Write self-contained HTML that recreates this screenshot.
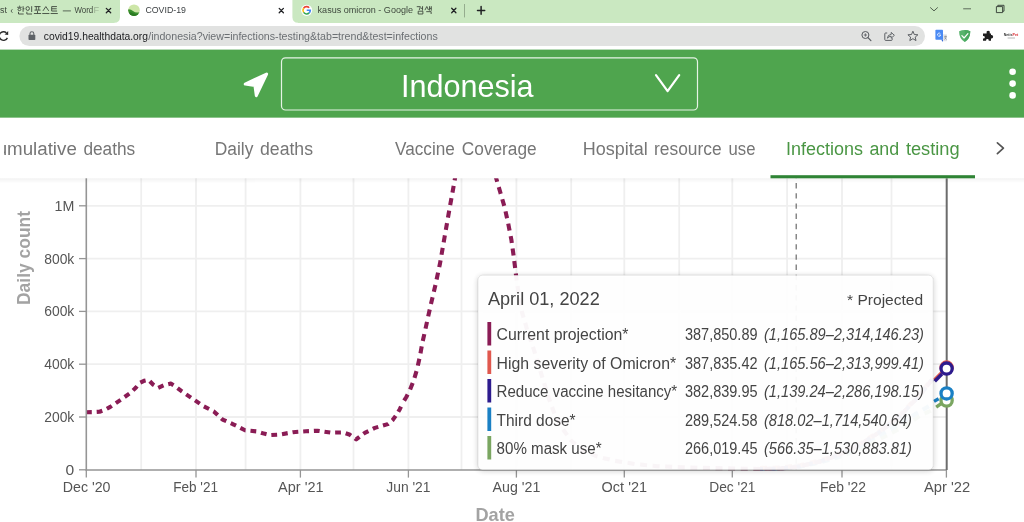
<!DOCTYPE html>
<html lang="en">
<head>
<meta charset="utf-8">
<title>COVID-19</title>
<style>
html,body{margin:0;padding:0;background:#fff;overflow:hidden;}
body{width:1024px;height:522px;position:relative;font-family:"Liberation Sans",sans-serif;}
svg{will-change:transform;opacity:0.999;position:absolute;left:0;top:0;display:block;}
text{font-family:"Liberation Sans",sans-serif;}
</style>
</head>
<body>
<svg width="1024" height="522" viewBox="0 0 1024 522">
<defs>
  <linearGradient id="tabShadow" x1="0" y1="0" x2="0" y2="1">
    <stop offset="0" stop-color="#000" stop-opacity="0.05"/>
    <stop offset="1" stop-color="#000" stop-opacity="0"/>
  </linearGradient>
  <filter id="ttShadow" x="-10%" y="-10%" width="120%" height="130%">
    <feGaussianBlur in="SourceAlpha" stdDeviation="3"/>
    <feOffset dx="0" dy="1"/>
    <feComponentTransfer><feFuncA type="linear" slope="0.22"/></feComponentTransfer>
    <feMerge><feMergeNode/><feMergeNode in="SourceGraphic"/></feMerge>
  </filter>
  <clipPath id="plotClip"><rect x="86" y="177" width="861" height="294"/></clipPath>
</defs>

<!-- ===== CHART (drawn first, tab bar overlays its top) ===== -->
<g id="chart">
<g stroke="#efefef" stroke-width="1.8" fill="none">
<line x1="141.2" y1="178" x2="141.2" y2="470"/>
<line x1="196.0" y1="178" x2="196.0" y2="470"/>
<line x1="245.6" y1="178" x2="245.6" y2="470"/>
<line x1="300.4" y1="178" x2="300.4" y2="470"/>
<line x1="353.5" y1="178" x2="353.5" y2="470"/>
<line x1="408.4" y1="178" x2="408.4" y2="470"/>
<line x1="461.5" y1="178" x2="461.5" y2="470"/>
<line x1="516.4" y1="178" x2="516.4" y2="470"/>
<line x1="571.2" y1="178" x2="571.2" y2="470"/>
<line x1="624.3" y1="178" x2="624.3" y2="470"/>
<line x1="679.2" y1="178" x2="679.2" y2="470"/>
<line x1="732.3" y1="178" x2="732.3" y2="470"/>
<line x1="787.1" y1="178" x2="787.1" y2="470"/>
<line x1="842.0" y1="178" x2="842.0" y2="470"/>
<line x1="891.5" y1="178" x2="891.5" y2="470"/>
<line x1="86" y1="417.0" x2="946" y2="417.0"/>
<line x1="86" y1="364.2" x2="946" y2="364.2"/>
<line x1="86" y1="311.4" x2="946" y2="311.4"/>
<line x1="86" y1="258.6" x2="946" y2="258.6"/>
<line x1="86" y1="205.8" x2="946" y2="205.8"/>
</g>
<line x1="796.2" y1="178" x2="796.2" y2="470" stroke="#6a6a6a" stroke-width="1.2" stroke-dasharray="5.4 4.8" stroke-dashoffset="-5"/>
<g clip-path="url(#plotClip)" fill="none" stroke-width="4.1" stroke-linejoin="round">
<polyline points="760.0,469.0 780.0,468.6 800.0,466.4 820.0,462.4 840.0,456.8 860.0,448.8 876.0,441.0 892.7,432.4 908.8,423.3 920.8,415.3 929.9,411.2 932.0,410.0" stroke="#7aa661" stroke-dasharray="7 5.6"/>
<polyline points="760.0,469.0 780.0,468.6 800.0,466.4 820.0,462.2 840.0,456.2 856.0,448.5 870.5,439.8 884.6,432.4 900.7,423.3 916.8,413.3 928.9,406.2 932.0,403.0" stroke="#1a80c4" stroke-dasharray="7 5.6"/>
<polyline points="760.0,468.0 780.0,467.6 800.0,465.2 820.0,460.5 840.0,453.5 860.5,443.4 880.6,430.4 900.7,414.3 920.8,393.1 932.0,378.5" stroke="#e0584e" stroke-dasharray="7 5.6"/>
<polyline points="760.0,469.0 780.0,468.6 800.0,466.2 820.0,461.5 840.0,454.5 860.5,444.4 880.6,431.4 900.7,415.3 920.8,394.1 932.0,379.5" stroke="#2d1b8e" stroke-dasharray="7 5.6" stroke-dashoffset="4"/>
<polyline points="760.0,469.0 780.0,468.6 800.0,466.2 820.0,461.5 840.0,454.5 860.5,444.4 880.6,431.4 900.7,415.3 920.8,394.1 932.0,379.5" stroke="#8a1c55" stroke-dasharray="7 5.6" stroke-dashoffset="8"/>
<polyline points="86.0,412.2 93.0,412.1 99.5,411.7 105.0,409.8 110.3,406.9 121.0,399.6 131.2,392.2 136.0,387.5 139.6,383.0 144.0,380.8 148.4,379.8 153.0,384.5 158.1,387.8 164.0,385.2 170.8,383.6 176.0,386.8 181.6,391.2 192.3,398.5 203.0,405.9 213.8,411.4 222.6,419.6 234.3,424.8 245.0,430.3 256.8,431.4 264.0,433.6 270.0,435.1 280.0,434.5 293.0,432.2 305.9,431.3 317.4,430.7 330.3,432.6 343.3,432.4 350.0,434.8 356.2,439.4 360.5,436.0 364.8,432.8 374.9,427.9 382.0,425.8 387.8,424.1 392.5,420.2 396.4,414.9 399.8,409.2 402.8,402.9" stroke="#8a1c55" stroke-dasharray="5.8 4.9"/>
<polyline points="402.8,402.9 406.2,397.2 409.4,391.4 413.7,380.5 417.1,369.0 420.0,356.0 422.3,343.1 425.2,330.2 428.0,317.2 430.9,304.3 435.2,286.0 440.0,263.5 444.6,237.0 449.3,209.9 452.4,193.0 455.4,176.0 459.0,150.0" stroke="#8a1c55" stroke-dasharray="7 5.6" stroke-dashoffset="10"/>
<polyline points="492.0,150.0 496.0,177.7 500.2,192.0 504.6,207.2 508.0,222.5 511.3,239.3 513.8,257.0 515.9,274.2 518.5,293.0 522.3,313.3 527.8,332.0 534.3,350.8 542.4,377.6 549.1,399.0 555.0,415.0 562.5,428.6 571.0,440.5 582.6,450.0 597.0,456.5 614.8,460.8 635.0,464.0 657.7,466.2 690.0,467.6 726.0,468.3 745.0,468.7 760.0,469.0" stroke="#8a1c55" stroke-dasharray="7 5.6"/>
</g>
<g fill="none" stroke-width="3.4" stroke-linecap="butt">
<line x1="936.2" y1="407.1" x2="942.2" y2="402.9" stroke="#7aa661"/>
<line x1="934" y1="401.4" x2="938.6" y2="398.7" stroke="#1a80c4"/>
<line x1="934.4" y1="380" x2="941.6" y2="372.8" stroke="#e0584e"/>
<line x1="934.8" y1="381.2" x2="942" y2="374" stroke="#2d1b8e"/>
</g>
<line x1="86.3" y1="178" x2="86.3" y2="470.6" stroke="#959595" stroke-width="1.6"/>
<line x1="85.6" y1="470" x2="947" y2="470" stroke="#959595" stroke-width="1.6"/>
<g stroke="#959595" stroke-width="1.3">
<line x1="79" y1="469.8" x2="86" y2="469.8"/>
<line x1="79" y1="417.0" x2="86" y2="417.0"/>
<line x1="79" y1="364.2" x2="86" y2="364.2"/>
<line x1="79" y1="311.4" x2="86" y2="311.4"/>
<line x1="79" y1="258.6" x2="86" y2="258.6"/>
<line x1="79" y1="205.8" x2="86" y2="205.8"/>
<line x1="86.3" y1="470" x2="86.3" y2="477.6"/>
<line x1="196.0" y1="470" x2="196.0" y2="477.6"/>
<line x1="300.4" y1="470" x2="300.4" y2="477.6"/>
<line x1="408.4" y1="470" x2="408.4" y2="477.6"/>
<line x1="516.4" y1="470" x2="516.4" y2="477.6"/>
<line x1="624.3" y1="470" x2="624.3" y2="477.6"/>
<line x1="732.3" y1="470" x2="732.3" y2="477.6"/>
<line x1="842.0" y1="470" x2="842.0" y2="477.6"/>
<line x1="946.4" y1="470" x2="946.4" y2="477.6"/>
</g>
<g font-size="14" fill="#555" text-anchor="end">
<text x="74.3" y="474.8" textLength="8.7" lengthAdjust="spacingAndGlyphs">0</text>
<text x="74.3" y="422.0" textLength="30.1" lengthAdjust="spacingAndGlyphs">200k</text>
<text x="74.3" y="369.2" textLength="30.1" lengthAdjust="spacingAndGlyphs">400k</text>
<text x="74.3" y="316.4" textLength="30.1" lengthAdjust="spacingAndGlyphs">600k</text>
<text x="74.3" y="263.6" textLength="30.1" lengthAdjust="spacingAndGlyphs">800k</text>
<text x="74.3" y="210.8" textLength="19.8" lengthAdjust="spacingAndGlyphs">1M</text>
</g>
<g font-size="14.5" fill="#555">
<text x="62.8" y="491.6" textLength="47.7" lengthAdjust="spacingAndGlyphs">Dec '20</text>
<text x="173.2" y="491.6" textLength="44.8" lengthAdjust="spacingAndGlyphs">Feb '21</text>
<text x="278.1" y="491.6" textLength="45.4" lengthAdjust="spacingAndGlyphs">Apr '21</text>
<text x="386.3" y="491.6" textLength="44.2" lengthAdjust="spacingAndGlyphs">Jun '21</text>
<text x="492.6" y="491.6" textLength="47.8" lengthAdjust="spacingAndGlyphs">Aug '21</text>
<text x="601.6" y="491.6" textLength="45.4" lengthAdjust="spacingAndGlyphs">Oct '21</text>
<text x="709.2" y="491.6" textLength="46.3" lengthAdjust="spacingAndGlyphs">Dec '21</text>
<text x="820.0" y="491.6" textLength="45.9" lengthAdjust="spacingAndGlyphs">Feb '22</text>
<text x="924.0" y="491.6" textLength="46.2" lengthAdjust="spacingAndGlyphs">Apr '22</text>
</g>
<text transform="translate(29.6 305) rotate(-90)" font-size="18" font-weight="bold" fill="#a3a3a3" textLength="94" lengthAdjust="spacingAndGlyphs">Daily count</text>
<text x="475.5" y="520.7" font-size="18.6" font-weight="bold" fill="#a3a3a3" textLength="39.4" lengthAdjust="spacingAndGlyphs">Date</text>
<line x1="946.7" y1="178" x2="946.7" y2="470" stroke="#6c6c6c" stroke-width="2"/>
<g fill="#fff" stroke-width="3.3">
<circle cx="946.6" cy="400.5" r="5.6" stroke="#7aa661"/>
<circle cx="946.6" cy="393.4" r="5.6" stroke="#1a80c4"/>
<circle cx="946.6" cy="367.6" r="5.6" stroke="#e0584e"/>
<circle cx="946.6" cy="368.6" r="5.6" stroke="#2d1b8e"/>
</g>

</g>

<!-- ===== TOOLTIP ===== -->
<g id="tooltip">
<rect x="478" y="275.2" width="455.2" height="194.6" rx="4.5" ry="4.5" fill="#fff" fill-opacity="0.95" stroke="#000" stroke-opacity="0.09" stroke-width="1" filter="url(#ttShadow)"/>
<g fill="#444">
<text x="487.9" y="305.2" font-size="18" textLength="111.9" lengthAdjust="spacingAndGlyphs">April 01, 2022</text>
<text x="847" y="305" font-size="15.5" textLength="76.2" lengthAdjust="spacingAndGlyphs">* Projected</text>
<rect x="487.4" y="322.0" width="3.8" height="23.5" fill="#8a1c55"/>
<text x="496.6" y="340.0" font-size="16" textLength="131.8" lengthAdjust="spacingAndGlyphs">Current projection*</text>
<text x="685" y="340.0" font-size="16" textLength="72.5" lengthAdjust="spacingAndGlyphs">387,850.89</text>
<text x="764" y="340.0" font-size="16" font-style="italic" textLength="159.9" lengthAdjust="spacingAndGlyphs">(1,165.89–2,314,146.23)</text>
<rect x="487.4" y="350.5" width="3.8" height="23.5" fill="#e0584e"/>
<text x="496.6" y="368.5" font-size="16" textLength="179.5" lengthAdjust="spacingAndGlyphs">High severity of Omicron*</text>
<text x="685" y="368.5" font-size="16" textLength="72.5" lengthAdjust="spacingAndGlyphs">387,835.42</text>
<text x="764" y="368.5" font-size="16" font-style="italic" textLength="159.9" lengthAdjust="spacingAndGlyphs">(1,165.56–2,313,999.41)</text>
<rect x="487.4" y="379.0" width="3.8" height="23.5" fill="#2d1b8e"/>
<text x="496.6" y="397.0" font-size="16" textLength="180.6" lengthAdjust="spacingAndGlyphs">Reduce vaccine hesitancy*</text>
<text x="685" y="397.0" font-size="16" textLength="72.5" lengthAdjust="spacingAndGlyphs">382,839.95</text>
<text x="764" y="397.0" font-size="16" font-style="italic" textLength="159.9" lengthAdjust="spacingAndGlyphs">(1,139.24–2,286,198.15)</text>
<rect x="487.4" y="407.5" width="3.8" height="23.5" fill="#1a80c4"/>
<text x="496.6" y="425.5" font-size="16" textLength="79.0" lengthAdjust="spacingAndGlyphs">Third dose*</text>
<text x="685" y="425.5" font-size="16" textLength="72.5" lengthAdjust="spacingAndGlyphs">289,524.58</text>
<text x="764" y="425.5" font-size="16" font-style="italic" textLength="147.9" lengthAdjust="spacingAndGlyphs">(818.02–1,714,540.64)</text>
<rect x="487.4" y="436.0" width="3.8" height="23.5" fill="#7aa661"/>
<text x="496.6" y="454.0" font-size="16" textLength="105.0" lengthAdjust="spacingAndGlyphs">80% mask use*</text>
<text x="685" y="454.0" font-size="16" textLength="72.5" lengthAdjust="spacingAndGlyphs">266,019.45</text>
<text x="764" y="454.0" font-size="16" font-style="italic" textLength="147.9" lengthAdjust="spacingAndGlyphs">(566.35–1,530,883.81)</text>
</g>

</g>

<!-- ===== BROWSER CHROME ===== -->
<g id="chrome">
<rect x="0" y="0" width="1024" height="23.4" fill="#cae8c1"/>
<rect x="0" y="23" width="1024" height="27" fill="#fff"/>
<path d="M114.4 22.8 Q119.8 22.6 120 17.2 L120 0 L292.4 0 L292.4 17.2 Q292.6 22.6 298 22.8 L298 23.4 L114.4 23.4 Z" fill="#fff"/>
<rect x="19.4" y="26.1" width="905.6" height="20" rx="10" ry="10" fill="#e1e2e1"/>
<g font-size="9.2" fill="#3e473d">
<text x="0.1" y="13.1" textLength="6.9" lengthAdjust="spacingAndGlyphs">st</text>
<text x="74.4" y="13.1" textLength="18.8" lengthAdjust="spacingAndGlyphs">Word</text>
<text x="93.4" y="13.1" fill-opacity="0.35">F</text>
<text x="145.4" y="13.2" textLength="40.6" lengthAdjust="spacingAndGlyphs" fill="#3c4043">COVID-19</text>
<text x="317.6" y="13.3" font-size="9.6" textLength="95.4" lengthAdjust="spacingAndGlyphs">kasus omicron - Google</text>
</g>
<polyline points="12.4,9.2 11,11 12.4,12.8" fill="none" stroke="#3e473d" stroke-width="0.8"/>
<line x1="62.8" y1="10.9" x2="70.9" y2="10.9" stroke="#3e473d" stroke-width="0.8"/>
<path d="M19.00 6.20 L20.08 6.20 M17.20 7.29 L21.66 7.29 M17.99 9.48 a1.44 1.17 0 1 0 2.88 0 a1.44 1.17 0 1 0 -2.88 0 M23.10 6.20 L23.10 11.82 M23.10 8.77 L24.40 8.77 M18.50 11.82 L18.50 14.00 L23.68 14.00 M25.98 8.54 a1.73 1.87 0 1 0 3.46 0 a1.73 1.87 0 1 0 -3.46 0 M31.67 6.20 L31.67 11.97 M26.85 11.82 L26.85 14.00 L32.03 14.00 M34.48 6.59 L40.52 6.59 M34.48 10.10 L40.52 10.10 M36.28 6.59 L36.28 10.10 M38.72 6.59 L38.72 10.10 M37.50 11.04 L37.50 13.38 M33.90 13.53 L41.10 13.53 M42.97 10.88 L45.85 6.59 L48.73 10.88 M42.25 13.53 L49.45 13.53 M56.94 6.59 L51.68 6.59 L51.68 11.04 L57.08 11.04 M51.68 8.77 L56.72 8.77 M50.60 13.53 L57.80 13.53 M416.76 6.67 L420.36 6.67 L419.28 9.94 M422.52 6.20 L422.52 10.57 M420.72 8.31 L422.52 8.31 M418.20 11.19 L422.88 11.19 L422.88 14.00 L418.20 14.00 L418.20 11.19 M424.94 10.10 L426.82 6.51 L428.54 10.10 M429.55 6.20 L429.55 10.57 M431.28 6.20 L431.28 10.72 M429.55 8.38 L431.28 8.38 M426.24 11.66 L431.14 11.66 L431.14 14.00" fill="none" stroke="#3e473d" stroke-width="0.95" stroke-opacity="0.95"/>
<path d="M106.3 8.4 L110.7 12.8 M110.7 8.4 L106.3 12.8" stroke="#202124" stroke-width="1.3" stroke-linecap="round" fill="none"/>
<path d="M279.2 8.4 L283.4 12.8 M283.4 8.4 L279.2 12.8" stroke="#202124" stroke-width="1.3" stroke-linecap="round" fill="none"/>
<path d="M451.7 8.3 L455.9 12.7 M455.9 8.3 L451.7 12.7" stroke="#202124" stroke-width="1.3" stroke-linecap="round" fill="none"/>
<line x1="464.5" y1="4" x2="464.5" y2="17.4" stroke="#8ea588" stroke-width="0.9"/>
<path d="M477.5 10.4 H484.7 M481.1 6.6 V14.2" stroke="#202124" stroke-width="1.5" stroke-linecap="round" fill="none"/>
<defs><clipPath id="favc"><circle cx="134" cy="10.2" r="5.8"/></clipPath></defs>
<circle cx="134" cy="10.2" r="5.8" fill="#cde6a8"/>
<path d="M127 9.5 Q130.5 8.6 133 11 Q136 13.4 140 12 L140 17 L127 17 Z" fill="#3a8f2e" clip-path="url(#favc)"/>
<path d="M127 12.4 Q131 11.6 134 13.4 Q137 15 140 14.2 L140 17 L127 17 Z" fill="#2b7a22" clip-path="url(#favc)"/>
<circle cx="306.6" cy="10.3" r="5.6" fill="#fff"/>
<g fill="none" stroke-width="1.6">
<path d="M309.2 7.7 A3.7 3.7 0 0 0 303.6 8.2" stroke="#ea4335"/>
<path d="M303.6 8.2 A3.7 3.7 0 0 0 303.6 12.4" stroke="#fbbc05"/>
<path d="M303.6 12.4 A3.7 3.7 0 0 0 309.2 12.9" stroke="#34a853"/>
<path d="M309.2 12.9 A3.7 3.7 0 0 0 310.3 10.3 L306.7 10.3" stroke="#4285f4"/>
</g>
<polyline points="930.2,7.4 934,10.9 937.8,7.4" fill="none" stroke="#4c5a4a" stroke-width="0.95"/>
<line x1="963.2" y1="8.8" x2="971" y2="8.8" stroke="#5d6c5a" stroke-width="1"/>
<path d="M996.4 6.6 H1002.6 V12.6 H996.4 Z M997.8 6.6 V5.3 H1004 V11.2 H1002.6" fill="none" stroke="#38423a" stroke-width="0.95"/>
<path d="M7.4 37.9 A4.3 4.3 0 1 1 6.4 32.8" fill="none" stroke="#2c2c2c" stroke-width="1.35"/>
<path d="M8.2 31 L8.2 35 L4.6 34.6 Z" fill="#2c2c2c"/>
<rect x="28.5" y="34.8" width="6.8" height="5.3" rx="0.8" fill="#5f6368"/>
<path d="M30 35 V33.6 A1.9 1.9 0 0 1 33.8 33.6 V35" fill="none" stroke="#5f6368" stroke-width="1.05"/>
<text x="43.8" y="39.9" font-size="11.2" fill="#202124" textLength="104.2" lengthAdjust="spacingAndGlyphs">covid19.healthdata.org</text>
<text x="148.2" y="39.9" font-size="11.2" fill="#6b6f73" textLength="289.6" lengthAdjust="spacingAndGlyphs">/indonesia?view=infections-testing&amp;tab=trend&amp;test=infections</text>
<circle cx="865.4" cy="35" r="3.5" fill="none" stroke="#55595e" stroke-width="1"/>
<path d="M868 37.7 L870.9 40.6" stroke="#55595e" stroke-width="1.2" stroke-linecap="round"/>
<path d="M863.8 35 H867 M865.4 33.4 V36.6" stroke="#55595e" stroke-width="0.8"/>
<path d="M887.2 33 H885.6 Q884.8 33 884.8 33.8 V39.6 Q884.8 40.4 885.6 40.4 H891.4 Q892.2 40.4 892.2 39.6 V38.2" fill="none" stroke="#55595e" stroke-width="0.95"/>
<path d="M887.4 38.2 Q887.6 34.6 891.2 34.4 V32.4 L894.4 35.3 L891.2 38.2 V36.3 Q888.8 36.2 887.4 38.2 Z" fill="none" stroke="#55595e" stroke-width="0.9" stroke-linejoin="round"/>
<path d="M912.9 31.2 L914.3 34.5 L917.9 34.8 L915.2 37.1 L916 40.6 L912.9 38.7 L909.8 40.6 L910.6 37.1 L907.9 34.8 L911.5 34.5 Z" fill="none" stroke="#55595e" stroke-width="0.95" stroke-linejoin="round"/>
<rect x="942.6" y="34.2" width="4.4" height="7" rx="0.6" fill="#e3e6ea"/>
<path d="M944.2 36.4 H946.6 M945.4 35.8 V36.4 M944.4 39.4 Q945.8 38.6 946.3 36.4 M944.6 37.4 Q945.3 38.8 946.6 39.4" stroke="#6a7078" stroke-width="0.55" fill="none"/>
<path d="M936.2 29.8 H942.2 Q943 29.8 943 30.6 V39.8 H936.2 Q935.4 39.8 935.4 39 V30.6 Q935.4 29.8 936.2 29.8 Z" fill="#4a8af4"/>
<path d="M943 39.8 L941.2 39.8 L943 42 Z" fill="#3367d6"/>
<path d="M940.4 33.7 A1.6 1.6 0 1 0 940.7 35 H939.2" fill="none" stroke="#fff" stroke-width="0.75"/>
<path d="M964.7 30 Q967.6 30 970.3 31.2 Q970.3 38.6 964.7 42 Q959.1 38.6 959.1 31.2 Q961.8 30 964.7 30 Z" fill="#57b36c"/>
<path d="M964.7 30 Q967.6 30 970.3 31.2 Q970.3 38.6 964.7 42 Z" fill="#4aa860"/>
<polyline points="961.9,35.6 964.1,38 967.9,33.6" fill="none" stroke="#fff" stroke-width="1.15" stroke-linecap="round" stroke-linejoin="round"/>
<path d="M983 33.6 H986.6 V32.7 A1.65 1.65 0 1 1 989.8 32.7 V33.6 H991 V35.1 H991.5 A1.65 1.65 0 1 1 991.5 38.4 H991 V40.8 H988.7 V40.3 A1.3 1.3 0 1 0 986.1 40.3 V40.8 H983 V38.5 H983.5 A1.3 1.3 0 1 0 983.5 35.9 H983 Z" fill="#1f1f1f"/>
<text x="1003.8" y="36" font-size="4.2" font-weight="bold" fill="#333" textLength="8.6" lengthAdjust="spacingAndGlyphs">Netis</text>
<text x="1012.5" y="36" font-size="4.2" font-weight="bold" fill="#d8232a" textLength="5.6" lengthAdjust="spacingAndGlyphs">Pet</text>
<line x1="1007.6" y1="38" x2="1015" y2="38" stroke="#9a9a9a" stroke-width="0.7"/>

</g>

<!-- ===== GREEN HEADER ===== -->
<g id="header">
<rect x="0" y="49.6" width="1024" height="68.2" fill="#4fa54e"/>
<!-- location arrow -->
<path d="M245.2 84.1 L266.6 74 L256.3 95.6 L254.9 85.4 Z" fill="#fff" stroke="#fff" stroke-width="3" stroke-linejoin="round"/>
<!-- select box -->
<rect x="281.5" y="57.8" width="416" height="52.2" rx="4" ry="4" fill="none" stroke="#e6f3e5" stroke-width="1.2"/>
<text x="400.9" y="97.4" font-size="30.5" fill="#fff" textLength="132.6" lengthAdjust="spacingAndGlyphs">Indonesia</text>
<polyline points="656,75.2 667.6,91.2 679.2,75.2" fill="none" stroke="#fff" stroke-width="2.2" stroke-linecap="round" stroke-linejoin="round"/>
<!-- kebab menu -->
<circle cx="1012.6" cy="71.8" r="3.3" fill="#fff"/>
<circle cx="1012.6" cy="83.6" r="3.3" fill="#fff"/>
<circle cx="1012.6" cy="95.4" r="3.3" fill="#fff"/>

</g>

<!-- ===== TAB BAR ===== -->
<g id="tabs">
<rect x="0" y="117.8" width="1024" height="60.5" fill="#fff"/>
<rect x="0" y="178.3" width="1024" height="5" fill="url(#tabShadow)"/>
<g font-size="19.2" fill="#767676" lengthAdjust="spacingAndGlyphs">
<text x="-3.3" y="155" textLength="80.1" lengthAdjust="spacingAndGlyphs">umulative</text>
<text x="83.4" y="155" textLength="51.8" lengthAdjust="spacingAndGlyphs">deaths</text>
<text x="214.8" y="155" textLength="38.6" lengthAdjust="spacingAndGlyphs">Daily</text>
<text x="260.0" y="155" textLength="53.0" lengthAdjust="spacingAndGlyphs">deaths</text>
<text x="395.0" y="155" textLength="59.8" lengthAdjust="spacingAndGlyphs">Vaccine</text>
<text x="461.8" y="155" textLength="74.9" lengthAdjust="spacingAndGlyphs">Coverage</text>
<text x="582.7" y="155" textLength="65.0" lengthAdjust="spacingAndGlyphs">Hospital</text>
<text x="654.0" y="155" textLength="67.6" lengthAdjust="spacingAndGlyphs">resource</text>
<text x="728.6" y="155" textLength="26.9" lengthAdjust="spacingAndGlyphs">use</text>
<g fill="#4a9644">
<text x="785.9" y="155" textLength="77.0" lengthAdjust="spacingAndGlyphs">Infections</text>
<text x="869.4" y="155" textLength="29.8" lengthAdjust="spacingAndGlyphs">and</text>
<text x="905.9" y="155" textLength="53.8" lengthAdjust="spacingAndGlyphs">testing</text>
</g>
</g>
<rect x="0" y="130" width="4" height="40" fill="#fff"/>
<rect x="770.5" y="175.2" width="204.5" height="3.1" fill="#2f8435"/>
<polyline points="997.4,142.8 1003.4,148.2 997.4,153.6" fill="none" stroke="#555" stroke-width="1.7" stroke-linecap="round" stroke-linejoin="round"/>

</g>
</svg>
</body>
</html>
